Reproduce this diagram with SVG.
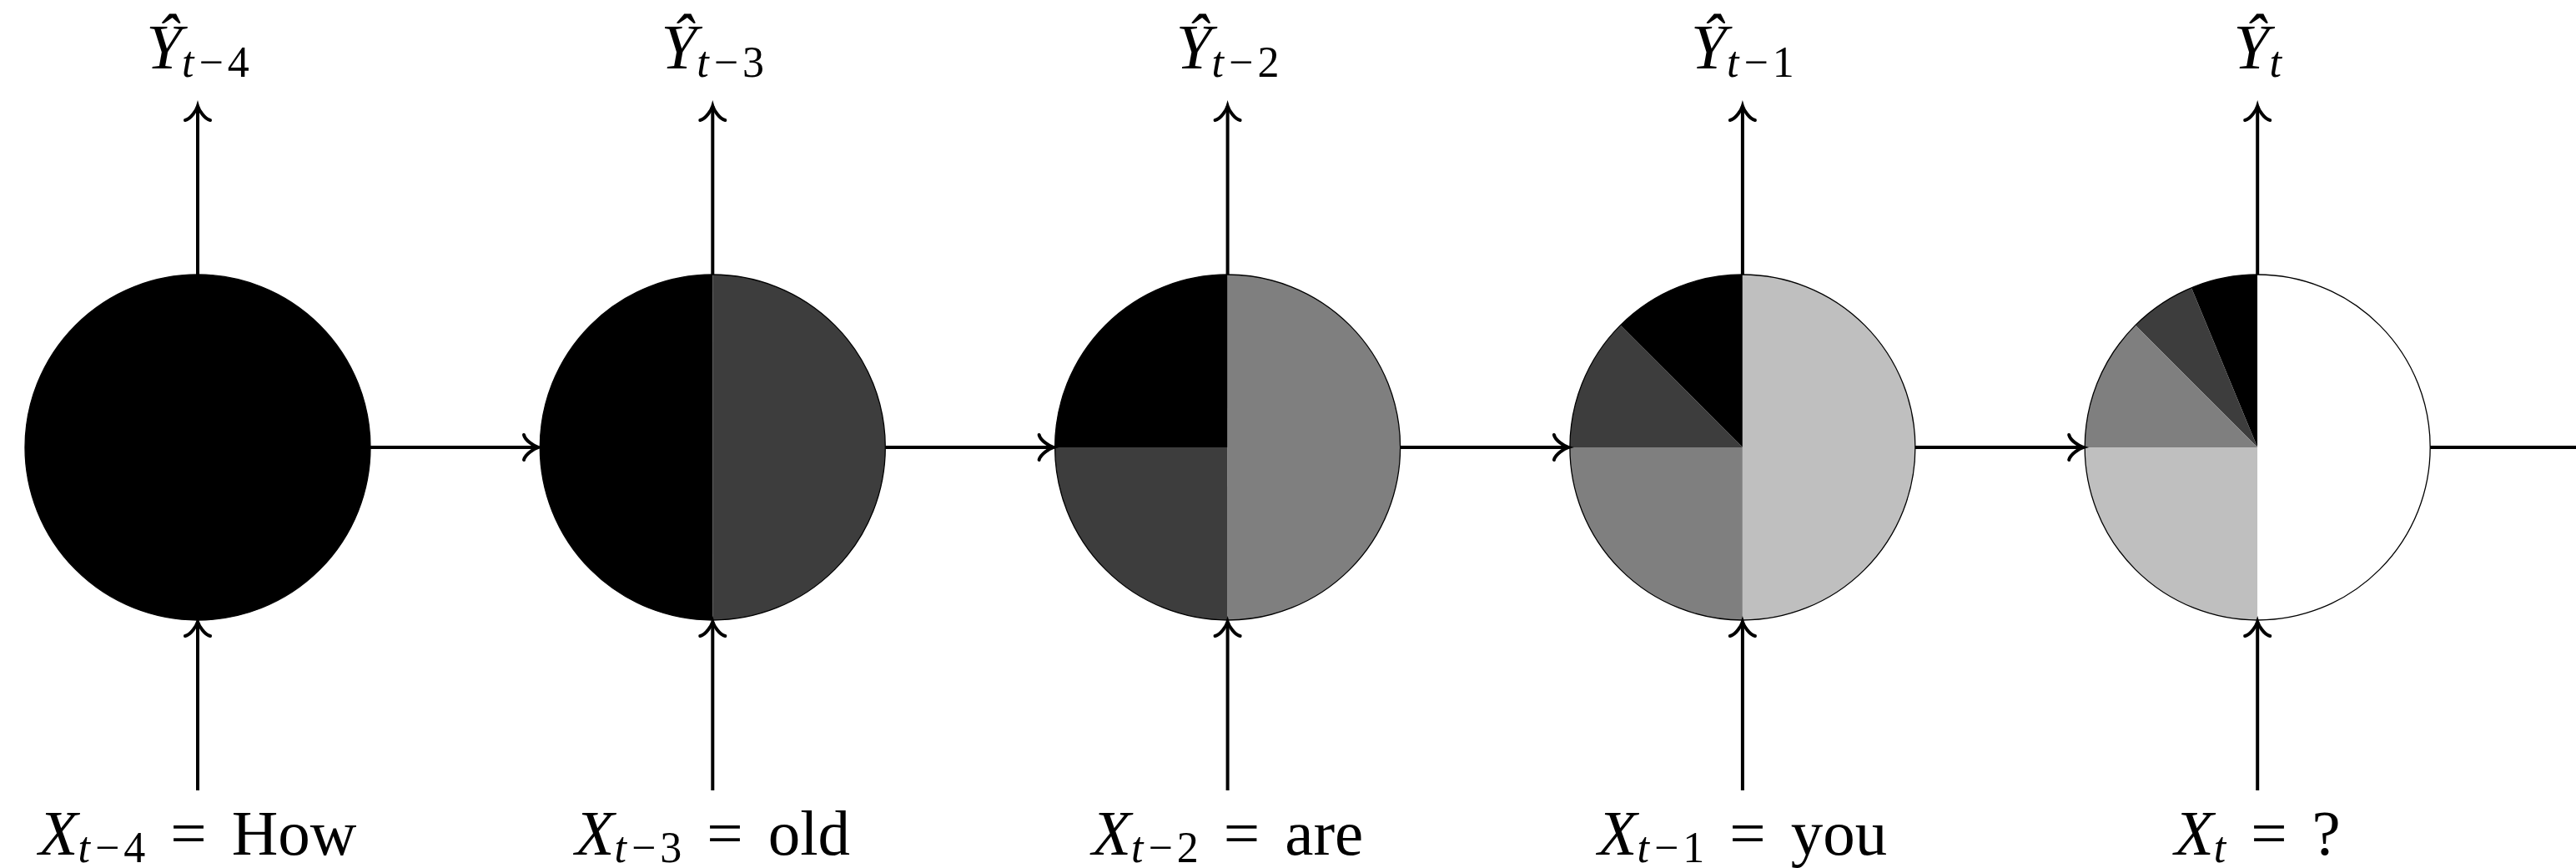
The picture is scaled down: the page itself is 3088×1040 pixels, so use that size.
<svg xmlns="http://www.w3.org/2000/svg" width="3088" height="1040" viewBox="0 0 3088 1040">
<style>
.lbl{font-family:"Liberation Serif","DejaVu Serif",serif;font-size:77px;fill:#000}
.it{font-style:italic}
.sub{font-size:52px}
.conn{stroke:#000;stroke-width:4;fill:none}
.ring{fill:none;stroke:#000;stroke-width:1.3}
.k0{fill:#000}.k1{fill:#3d3d3d}.k2{fill:#7f7f7f}.k3{fill:#bfbfbf}.k4{fill:#fff}
</style>
<defs>
<marker id="to" markerUnits="userSpaceOnUse" markerWidth="40" markerHeight="40" refX="2" refY="0" orient="auto" overflow="visible">
<path d="M -15,-15 C -13.5,-8 -2,-1.2 2,0 C -2,1.2 -13.5,8 -15,15" fill="none" stroke="#000" stroke-width="4" stroke-linecap="round"/>
</marker>
</defs>

<g id="node1" transform="translate(237,536)">
<circle r="207" class="k0"/>
<circle r="207" class="ring"/>
</g>

<g id="node2" transform="translate(854.3,536)">
<path class="k0" d="M0,0 L0,-207 A207,207 0 0 0 0,207 Z"/>
<path class="k1" d="M0,0 L0,-207 A207,207 0 0 1 0,207 Z"/>
<circle r="207" class="ring"/>
</g>

<g id="node3" transform="translate(1471.6,536)">
<path class="k0" d="M0,0 L0,-207 A207,207 0 0 0 -207,0 Z"/>
<path class="k1" d="M0,0 L-207,0 A207,207 0 0 0 0,207 Z"/>
<path class="k2" d="M0,0 L0,-207 A207,207 0 0 1 0,207 Z"/>
<circle r="207" class="ring"/>
</g>

<g id="node4" transform="translate(2088.9,536)">
<path class="k0" d="M0,0 L0,-207 A207,207 0 0 0 -146.37,-146.37 Z"/>
<path class="k1" d="M0,0 L-146.37,-146.37 A207,207 0 0 0 -207,0 Z"/>
<path class="k2" d="M0,0 L-207,0 A207,207 0 0 0 0,207 Z"/>
<path class="k3" d="M0,0 L0,-207 A207,207 0 0 1 0,207 Z"/>
<circle r="207" class="ring"/>
</g>

<g id="node5" transform="translate(2706.2,536)">
<path class="k0" d="M0,0 L0,-207 A207,207 0 0 0 -79.22,-191.24 Z"/>
<path class="k1" d="M0,0 L-79.22,-191.24 A207,207 0 0 0 -146.37,-146.37 Z"/>
<path class="k2" d="M0,0 L-146.37,-146.37 A207,207 0 0 0 -207,0 Z"/>
<path class="k3" d="M0,0 L-207,0 A207,207 0 0 0 0,207 Z"/>
<path class="k4" d="M0,0 L0,-207 A207,207 0 0 1 0,207 Z"/>
<circle r="207" class="ring"/>
</g>

<g id="connectors">
<line class="conn" x1="444" y1="536" x2="645" y2="536" marker-end="url(#to)"/>
<line class="conn" x1="1061.3" y1="536" x2="1262.6" y2="536" marker-end="url(#to)"/>
<line class="conn" x1="1678.6" y1="536" x2="1879.9" y2="536" marker-end="url(#to)"/>
<line class="conn" x1="2295.9" y1="536" x2="2497.2" y2="536" marker-end="url(#to)"/>
<line class="conn" x1="2913.2" y1="536" x2="3090" y2="536"/>

<line class="conn" x1="237" y1="329" x2="237" y2="127" marker-end="url(#to)"/>
<line class="conn" x1="854.3" y1="329" x2="854.3" y2="127" marker-end="url(#to)"/>
<line class="conn" x1="1471.6" y1="329" x2="1471.6" y2="127" marker-end="url(#to)"/>
<line class="conn" x1="2088.9" y1="329" x2="2088.9" y2="127" marker-end="url(#to)"/>
<line class="conn" x1="2706.2" y1="329" x2="2706.2" y2="127" marker-end="url(#to)"/>

<line class="conn" x1="237" y1="947" x2="237" y2="745" marker-end="url(#to)"/>
<line class="conn" x1="854.3" y1="947" x2="854.3" y2="745" marker-end="url(#to)"/>
<line class="conn" x1="1471.6" y1="947" x2="1471.6" y2="745" marker-end="url(#to)"/>
<line class="conn" x1="2088.9" y1="947" x2="2088.9" y2="745" marker-end="url(#to)"/>
<line class="conn" x1="2706.2" y1="947" x2="2706.2" y2="745" marker-end="url(#to)"/>
</g>

<g id="labels-out">
<text class="lbl" x="237" y="82" text-anchor="middle"><tspan class="it">Ŷ</tspan><tspan class="sub it" dy="10">t</tspan><tspan class="sub" dx="6">−</tspan><tspan class="sub" dx="5">4</tspan></text>
<text class="lbl" x="854.3" y="82" text-anchor="middle"><tspan class="it">Ŷ</tspan><tspan class="sub it" dy="10">t</tspan><tspan class="sub" dx="6">−</tspan><tspan class="sub" dx="5">3</tspan></text>
<text class="lbl" x="1471.6" y="82" text-anchor="middle"><tspan class="it">Ŷ</tspan><tspan class="sub it" dy="10">t</tspan><tspan class="sub" dx="6">−</tspan><tspan class="sub" dx="5">2</tspan></text>
<text class="lbl" x="2088.9" y="82" text-anchor="middle"><tspan class="it">Ŷ</tspan><tspan class="sub it" dy="10">t</tspan><tspan class="sub" dx="6">−</tspan><tspan class="sub" dx="5">1</tspan></text>
<text class="lbl" x="2706.2" y="82" text-anchor="middle"><tspan class="it">Ŷ</tspan><tspan class="sub it" dy="10">t</tspan></text>
</g>

<g id="labels-in">
<text class="lbl" x="237" y="1024" text-anchor="middle"><tspan class="it">X</tspan><tspan class="sub it" dy="9">t</tspan><tspan class="sub" dx="6">−</tspan><tspan class="sub" dx="5">4</tspan><tspan dy="-9" dx="30">=</tspan><tspan dx="30">How</tspan></text>
<text class="lbl" x="854.3" y="1024" text-anchor="middle"><tspan class="it">X</tspan><tspan class="sub it" dy="9">t</tspan><tspan class="sub" dx="6">−</tspan><tspan class="sub" dx="5">3</tspan><tspan dy="-9" dx="30">=</tspan><tspan dx="30">old</tspan></text>
<text class="lbl" x="1471.6" y="1024" text-anchor="middle"><tspan class="it">X</tspan><tspan class="sub it" dy="9">t</tspan><tspan class="sub" dx="6">−</tspan><tspan class="sub" dx="5">2</tspan><tspan dy="-9" dx="30">=</tspan><tspan dx="30">are</tspan></text>
<text class="lbl" x="2088.9" y="1024" text-anchor="middle"><tspan class="it">X</tspan><tspan class="sub it" dy="9">t</tspan><tspan class="sub" dx="6">−</tspan><tspan class="sub" dx="5">1</tspan><tspan dy="-9" dx="30">=</tspan><tspan dx="30">you</tspan></text>
<text class="lbl" x="2706.2" y="1024" text-anchor="middle"><tspan class="it">X</tspan><tspan class="sub it" dy="9">t</tspan><tspan dy="-9" dx="30">=</tspan><tspan dx="30">?</tspan></text>
</g>
</svg>
